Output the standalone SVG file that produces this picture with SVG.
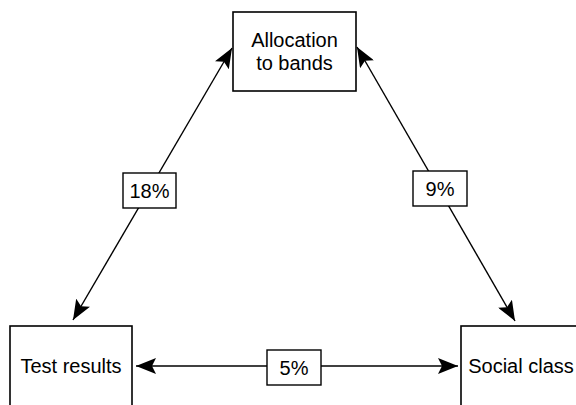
<svg xmlns="http://www.w3.org/2000/svg" width="576" height="405" viewBox="0 0 576 405">
<style>
.box{fill:#fff;stroke:#000;stroke-width:1.6}
.lbl{fill:#fff;stroke:#000;stroke-width:1.4}
.t{font-family:"Liberation Sans",Arial,sans-serif;font-size:20px;fill:#000;text-anchor:middle}
.p{font-family:"Liberation Sans",Arial,sans-serif;font-size:20px;fill:#000;text-anchor:middle}
.c{stroke:#000;stroke-width:1.4;fill:none;marker-start:url(#ah);marker-end:url(#ah)}
</style>
<defs>
<marker id="ah" viewBox="0 0 20 16" refX="20" refY="8" markerWidth="20" markerHeight="16" markerUnits="userSpaceOnUse" orient="auto-start-reverse">
<path d="M0,0 L20,8 L0,16 L4,8 Z" fill="#000"/>
</marker>
</defs>
<g id="connectors">
<line class="c" x1="73" y1="320" x2="232" y2="48"/>
<line class="c" x1="515" y1="321" x2="357" y2="47"/>
<line class="c" x1="136" y1="366" x2="458" y2="366"/>
</g>
<g id="node-allocation">
<rect class="box" x="233" y="12" width="123" height="79"/>
<text class="t" x="294.5" y="47">Allocation</text>
<text class="t" x="294.5" y="70">to bands</text>
</g>
<g id="node-test">
<rect class="box" x="10" y="326" width="122" height="90"/>
<text class="t" x="71" y="373">Test results</text>
</g>
<g id="node-social">
<rect class="box" x="461" y="326" width="130" height="90"/>
<text class="t" x="521" y="373">Social class</text>
</g>
<g id="label-18">
<rect class="lbl" x="123" y="173" width="53" height="35"/>
<text class="p" x="149.5" y="197.5">18%</text>
</g>
<g id="label-9">
<rect class="lbl" x="413" y="171" width="54" height="35"/>
<text class="p" x="440" y="195.5">9%</text>
</g>
<g id="label-5">
<rect class="lbl" x="267" y="350" width="54" height="35"/>
<text class="p" x="294" y="374.5">5%</text>
</g>
</svg>
